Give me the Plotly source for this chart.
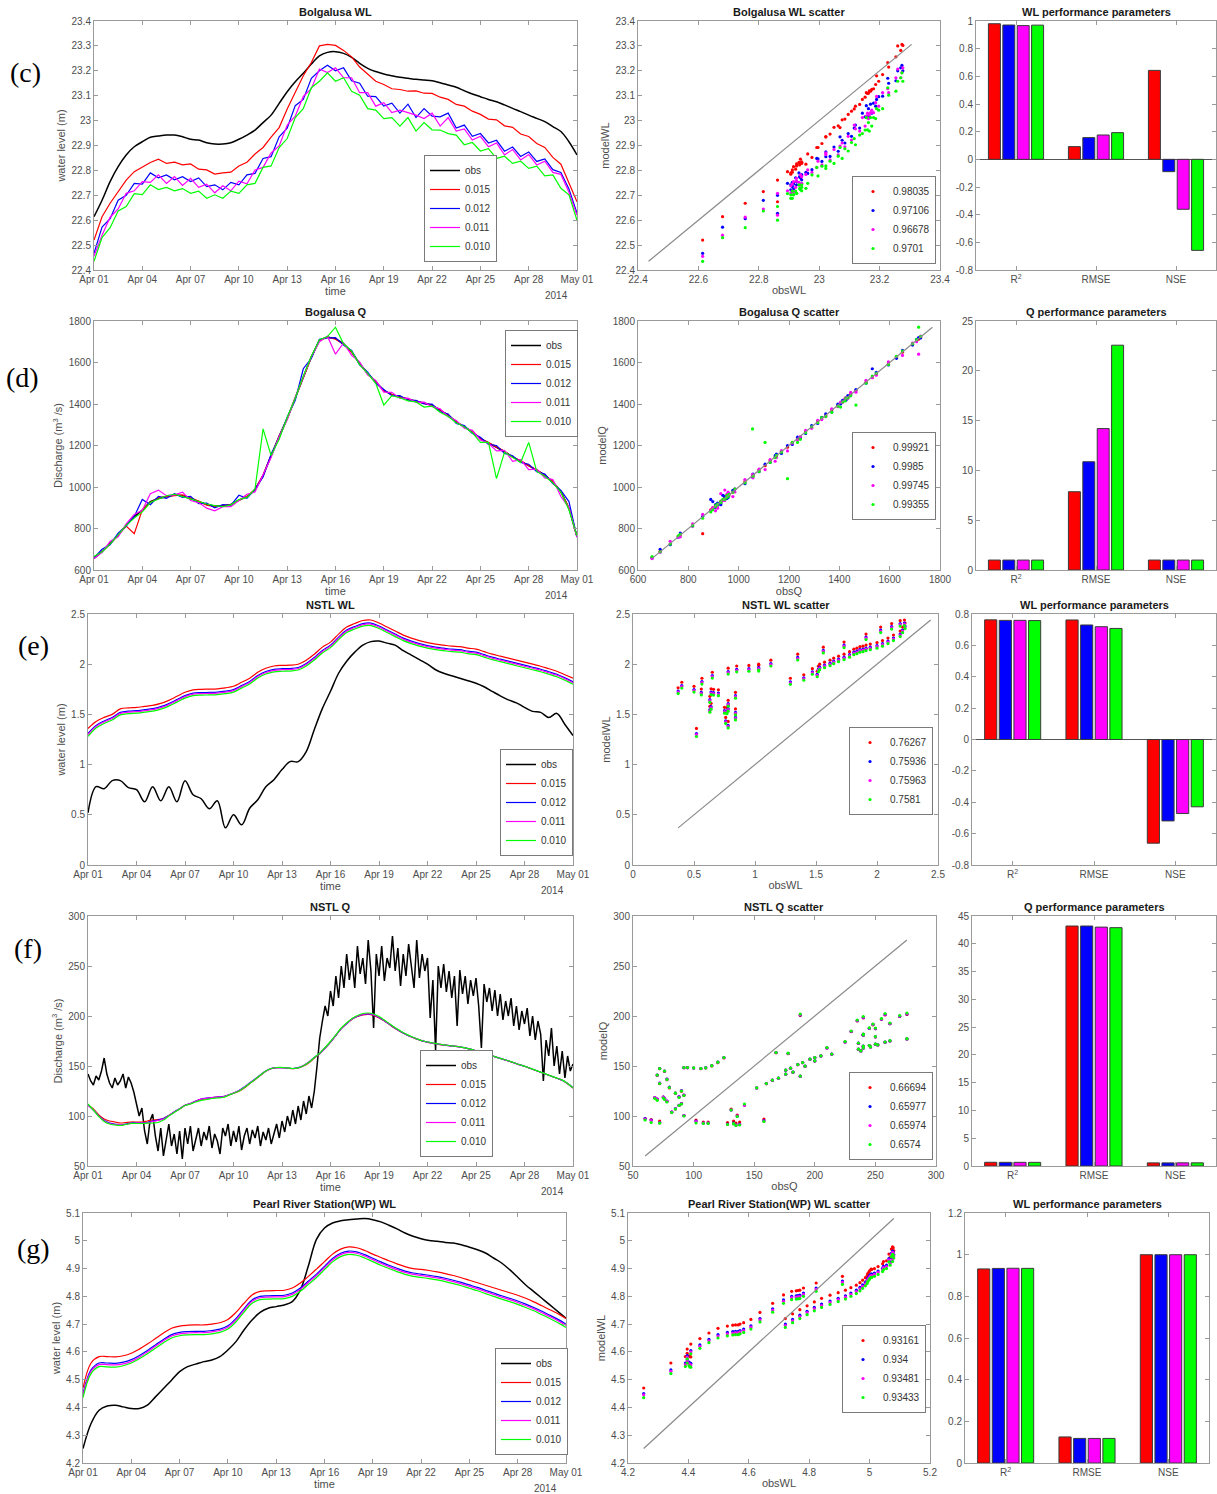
import plotly.graph_objects as go
import pandas as pd

W, H = 1217, 1494

# ---------------- tick labels / names ----------------
date_ticks = ["2014-04-01", "2014-04-04", "2014-04-07", "2014-04-10", "2014-04-13",
              "2014-04-16", "2014-04-19", "2014-04-22", "2014-04-25", "2014-04-28", "2014-05-01"]
date_tick_labels = ["Apr 01", "Apr 04", "Apr 07", "Apr 10", "Apr 13", "Apr 16",
                    "Apr 19", "Apr 22", "Apr 25", "Apr 28", "May 01"]
series_names = ["obs", "0.015", "0.012", "0.011", "0.010"]
metric_labels = ["R<sup>2</sup>", "RMSE", "NSE"]
metric_pos = [1, 2, 3]

t12 = pd.date_range("2014-04-01", periods=61, freq="12h")
t8 = pd.date_range("2014-04-01", periods=91, freq="8h")
t4 = pd.date_range("2014-04-01", periods=181, freq="4h")

# ---------------- (c) Bolgalusa WL (12-hourly) ----------------
c_obs = [22.614, 22.680, 22.755, 22.815, 22.862, 22.895, 22.915, 22.933, 22.938, 22.942,
         22.942, 22.935, 22.925, 22.922, 22.911, 22.906, 22.906, 22.911, 22.925, 22.942,
         22.962, 22.992, 23.022, 23.069, 23.116, 23.156, 23.190, 23.227, 23.260, 23.274,
         23.277, 23.270, 23.254, 23.230, 23.210, 23.197, 23.187, 23.180, 23.174, 23.170,
         23.166, 23.163, 23.160, 23.152, 23.143, 23.134, 23.120, 23.107, 23.096, 23.085,
         23.076, 23.063, 23.049, 23.036, 23.022, 23.009, 22.996, 22.976, 22.956, 22.915,
         22.862]
c_red = [22.520, 22.614, 22.668, 22.715, 22.761, 22.795, 22.815, 22.832, 22.845, 22.828,
         22.833, 22.822, 22.826, 22.805, 22.802, 22.785, 22.790, 22.793, 22.818, 22.833,
         22.866, 22.892, 22.934, 22.972, 23.047, 23.112, 23.180, 23.233, 23.300, 23.306,
         23.302, 23.282, 23.256, 23.215, 23.185, 23.158, 23.145, 23.128, 23.125, 23.118,
         23.119, 23.110, 23.109, 23.094, 23.085, 23.065, 23.058, 23.038, 23.025, 23.006,
         23.003, 22.979, 22.973, 22.946, 22.936, 22.908, 22.892, 22.852, 22.825, 22.752,
         22.674]
c_blue = [22.467, 22.572, 22.606, 22.680, 22.700, 22.748, 22.745, 22.790, 22.770, 22.782,
          22.762, 22.775, 22.755, 22.770, 22.735, 22.742, 22.722, 22.752, 22.742, 22.782,
          22.788, 22.848, 22.855, 22.935, 22.970, 23.060, 23.085, 23.170, 23.200, 23.222,
          23.200, 23.212, 23.160, 23.150, 23.098, 23.096, 23.058, 23.070, 23.030, 23.066,
          23.012, 23.048, 23.018, 23.015, 23.030, 22.970, 22.982, 22.937, 22.948, 22.910,
          22.921, 22.877, 22.894, 22.856, 22.874, 22.836, 22.846, 22.803, 22.792, 22.725,
          22.628]
c_mag = [22.455, 22.540, 22.612, 22.645, 22.708, 22.718, 22.755, 22.752, 22.782, 22.748,
         22.775, 22.740, 22.768, 22.732, 22.745, 22.710, 22.738, 22.718, 22.757, 22.746,
         22.802, 22.812, 22.870, 22.898, 22.982, 23.018, 23.097, 23.128, 23.207, 23.193,
         23.212, 23.172, 23.172, 23.112, 23.112, 23.058, 23.072, 23.032, 23.042, 23.032,
         23.022, 23.008, 23.030, 22.978, 23.012, 22.958, 22.967, 22.922, 22.937, 22.895,
         22.910, 22.862, 22.884, 22.842, 22.864, 22.822, 22.837, 22.792, 22.784, 22.712,
         22.620]
c_green = [22.435, 22.530, 22.570, 22.637, 22.655, 22.707, 22.703, 22.742, 22.723, 22.732,
           22.718, 22.727, 22.708, 22.717, 22.688, 22.702, 22.688, 22.717, 22.708, 22.742,
           22.748, 22.812, 22.818, 22.892, 22.928, 23.012, 23.048, 23.132, 23.158, 23.192,
           23.158, 23.172, 23.118, 23.102, 23.048, 23.042, 23.008, 23.012, 22.978, 23.012,
           22.958, 22.992, 22.963, 22.962, 22.948, 22.942, 22.903, 22.912, 22.878, 22.887,
           22.848, 22.857, 22.828, 22.837, 22.808, 22.817, 22.778, 22.782, 22.728, 22.702,
           22.600]
c_r2 = [0.98035, 0.97106, 0.96678, 0.9701]
c_rmse = [0.092, 0.157, 0.176, 0.193]
c_nse = [0.643, -0.089, -0.361, -0.658]
c_bar_ticks = [-0.8, -0.6, -0.4, -0.2, 0, 0.2, 0.4, 0.6, 0.8, 1]

# ---------------- (d) Bogalusa Q (12-hourly) ----------------
d_obs = [656, 688, 728, 768, 817, 857, 889, 929, 945, 953,
         961, 958, 945, 929, 916, 908, 908, 916, 937, 953,
         985, 1055, 1150, 1245, 1330, 1426, 1531, 1627, 1707, 1723,
         1715, 1691, 1651, 1595, 1547, 1506, 1466, 1445, 1434, 1423,
         1413, 1405, 1394, 1370, 1346, 1314, 1290, 1266, 1234, 1213,
         1194, 1170, 1145, 1125, 1105, 1081, 1057, 1025, 977, 897,
         760]
d_red = [660, 690, 725, 770, 812, 775, 890, 925, 948, 955,
         958, 962, 948, 932, 912, 905, 910, 915, 935, 955,
         990, 1058, 1152, 1240, 1328, 1430, 1528, 1625, 1705, 1722,
         1712, 1688, 1650, 1592, 1545, 1505, 1464, 1446, 1432, 1425,
         1410, 1404, 1392, 1372, 1344, 1316, 1288, 1268, 1232, 1214,
         1192, 1172, 1143, 1127, 1103, 1083, 1055, 1027, 975, 900,
         762]
d_blue = [658, 700, 722, 778, 812, 858, 940, 915, 955, 945,
          968, 950, 955, 920, 922, 900, 915, 912, 960, 945,
          990, 1048, 1158, 1236, 1336, 1418, 1570, 1620, 1712, 1718,
          1720, 1684, 1658, 1588, 1553, 1500, 1470, 1440, 1441, 1418,
          1417, 1400, 1399, 1362, 1352, 1306, 1296, 1258, 1240, 1205,
          1200, 1162, 1151, 1118, 1110, 1074, 1062, 1016, 984, 930,
          758]
d_mag = [655, 685, 738, 760, 822, 868, 888, 968, 985, 958,
         962, 975, 935, 925, 898, 885, 905, 905, 935, 965,
         976, 1060, 1142, 1243, 1325, 1431, 1527, 1629, 1700, 1727,
         1640, 1694, 1634, 1603, 1539, 1514, 1457, 1456, 1427, 1428,
         1408, 1409, 1387, 1377, 1339, 1321, 1283, 1273, 1227, 1211,
         1174, 1176, 1124, 1132, 1084, 1086, 1044, 1036, 954, 901,
         758]
d_green = [665, 688, 725, 772, 815, 850, 880, 925, 940, 958,
           965, 955, 943, 930, 918, 910, 905, 914, 940, 950,
           990, 1280, 1152, 1230, 1335, 1428, 1535, 1630, 1710, 1725,
           1770, 1690, 1655, 1590, 1548, 1500, 1395, 1440, 1430, 1415,
           1410, 1385, 1390, 1360, 1340, 1310, 1290, 1262, 1215, 1215,
           1040, 1168, 1142, 1118, 1215, 1075, 1052, 1020, 975, 890,
           765]
d_r2 = [0.99921, 0.9985, 0.99745, 0.99355]
d_rmse = [7.86, 10.87, 14.2, 22.57]
d_nse = [0.9996, 0.9993, 0.9986, 0.9964]
d_bar_ticks = [0, 5, 10, 15, 20, 25]

# ---------------- (e) NSTL WL (12-hourly) ----------------
e_obs = [0.52, 0.78, 0.76, 0.84, 0.84, 0.77, 0.75, 0.63, 0.78, 0.64,
         0.78, 0.63, 0.84, 0.70, 0.66, 0.56, 0.64, 0.37, 0.50, 0.40,
         0.565, 0.65, 0.78, 0.85, 0.95, 1.03, 1.03, 1.13, 1.35, 1.56,
         1.73, 1.91, 2.03, 2.12, 2.19, 2.225, 2.23, 2.21, 2.19, 2.135,
         2.09, 2.045, 2.00, 1.945, 1.91, 1.885, 1.86, 1.835, 1.81, 1.775,
         1.73, 1.685, 1.645, 1.615, 1.57, 1.53, 1.52, 1.47, 1.51, 1.40,
         1.29]
e_red = [1.36, 1.43, 1.47, 1.50, 1.555, 1.565, 1.57, 1.58, 1.59, 1.61,
         1.64, 1.68, 1.72, 1.745, 1.75, 1.752, 1.755, 1.765, 1.78, 1.82,
         1.86, 1.92, 1.96, 1.982, 1.988, 1.99, 2.00, 2.04, 2.10, 2.17,
         2.22, 2.30, 2.37, 2.405, 2.435, 2.44, 2.41, 2.37, 2.33, 2.29,
         2.26, 2.235, 2.215, 2.20, 2.19, 2.18, 2.175, 2.16, 2.15, 2.125,
         2.10, 2.08, 2.06, 2.04, 2.02, 2.00, 1.98, 1.955, 1.93, 1.895,
         1.86]
e_blue = [1.31, 1.39, 1.435, 1.47, 1.52, 1.532, 1.537, 1.547, 1.557, 1.577,
          1.607, 1.647, 1.687, 1.712, 1.717, 1.719, 1.722, 1.732, 1.747, 1.787,
          1.827, 1.887, 1.927, 1.949, 1.955, 1.957, 1.967, 2.007, 2.067, 2.137,
          2.19, 2.27, 2.34, 2.375, 2.405, 2.41, 2.38, 2.34, 2.30, 2.26,
          2.23, 2.205, 2.185, 2.17, 2.16, 2.15, 2.145, 2.13, 2.12, 2.095,
          2.07, 2.05, 2.03, 2.01, 1.99, 1.97, 1.95, 1.925, 1.90, 1.865,
          1.825]
e_mag = [1.30, 1.38, 1.425, 1.46, 1.51, 1.522, 1.527, 1.537, 1.547, 1.567,
         1.597, 1.637, 1.677, 1.702, 1.707, 1.709, 1.712, 1.722, 1.737, 1.777,
         1.817, 1.877, 1.917, 1.939, 1.945, 1.947, 1.957, 1.997, 2.057, 2.127,
         2.18, 2.26, 2.33, 2.365, 2.395, 2.40, 2.37, 2.33, 2.29, 2.25,
         2.22, 2.195, 2.175, 2.16, 2.15, 2.14, 2.135, 2.12, 2.11, 2.085,
         2.06, 2.04, 2.02, 2.00, 1.98, 1.96, 1.94, 1.915, 1.89, 1.855,
         1.815]
e_green = [1.28, 1.365, 1.41, 1.445, 1.495, 1.507, 1.512, 1.522, 1.532, 1.552,
           1.582, 1.622, 1.662, 1.687, 1.692, 1.694, 1.697, 1.707, 1.722, 1.762,
           1.802, 1.862, 1.902, 1.924, 1.93, 1.932, 1.942, 1.982, 2.042, 2.112,
           2.165, 2.245, 2.315, 2.35, 2.38, 2.385, 2.355, 2.315, 2.275, 2.235,
           2.205, 2.18, 2.16, 2.145, 2.135, 2.125, 2.12, 2.105, 2.095, 2.07,
           2.045, 2.025, 2.005, 1.985, 1.965, 1.945, 1.925, 1.90, 1.875, 1.84,
           1.80]
e_r2 = [0.76267, 0.75936, 0.75963, 0.7581]
e_rmse = [0.762, 0.730, 0.719, 0.708]
e_nse = [-0.661, -0.519, -0.472, -0.429]
e_bar_ticks = [-0.8, -0.6, -0.4, -0.2, 0, 0.2, 0.4, 0.6, 0.8]

# ---------------- (f) NSTL Q : obs 4-hourly, model 8-hourly ----------------
f_obs = [142, 135, 131, 140, 136, 145,
         158, 142, 133, 128, 138, 131,
         135, 142, 128, 139, 133, 124,
         112, 100, 108, 85, 72, 95,
         102, 80, 65, 88, 60, 78,
         92, 70, 82, 62, 85, 57,
         88, 72, 90, 65, 78, 88,
         70, 84, 76, 90, 68, 82,
         75, 62, 88, 80, 92, 70,
         85, 74, 90, 66, 80, 88,
         72, 86, 78, 90, 70, 84,
         76, 88, 72, 82, 92, 78,
         95, 84, 100, 90, 106, 92,
         110, 96, 115, 102, 120, 108,
         125, 150, 178, 195, 210, 200,
         225, 210, 240, 218, 250, 228,
         262, 236, 255, 228, 270, 242,
         258, 232, 276, 245, 188, 262,
         240, 270, 235, 258, 248, 280,
         245, 268, 230, 262, 240, 272,
         250, 228, 276, 238, 262, 245,
         258, 198, 236, 165, 250, 228,
         252, 224, 245, 218, 240, 190,
         246, 222, 240, 212, 236, 220,
         238, 210, 168, 232, 214, 228,
         205, 226, 200, 222, 196, 215,
         200, 218, 190, 210, 186, 205,
         192, 208, 180, 200, 176, 195,
         182, 135, 176, 160, 188, 150,
         170, 142, 165, 138, 160, 145,
         152]
f_red = [111, 107, 101, 97, 95, 94, 93, 93.5, 94, 94,
         94, 95, 96, 96.5, 97.5, 100.5, 104, 107, 110.5, 112.3,
         114.7, 116.7, 117.3, 118.3, 119, 119, 120.7, 122.7, 124.7, 128,
         132.3, 136.3, 140.7, 144.7, 147.3, 148.3, 148.3, 148, 147.3, 148,
         150, 153.3, 158, 162.3, 168, 174, 180.7, 187.3, 192.3, 196.7,
         199.5, 201, 201.5, 200.5, 198, 195, 191.2, 187.5, 184.3, 181.5,
         179, 177, 175, 173.7, 172.7, 171.7, 171, 170.3, 169.7, 169,
         168, 166.7, 165, 163.3, 161.7, 160, 158.3, 156.7, 155, 153.3,
         151.3, 149.7, 147.7, 145.7, 143.7, 141.7, 139.7, 137.7, 135.7, 132.3,
         128]
f_blue = [111, 106, 100, 95.5, 93, 92, 91, 92, 93, 93,
          93, 93.5, 95, 96, 97.5, 100.5, 104, 107.3, 110.7, 112.5,
          115, 117, 117.8, 118.5, 119, 119.3, 121, 123, 125.5, 129,
          133, 137, 141, 145, 147.5, 148.3, 148.3, 148, 147.5, 148.3,
          150.5, 154, 158.5, 162.5, 168, 174, 180.7, 187.3, 192.3, 196.9,
          199.8, 201.5, 202, 201, 198.5, 195.3, 191.5, 187.7, 184.5, 181.6,
          179.2, 177.1, 175.1, 173.8, 172.8, 171.8, 171.1, 170.4, 169.8, 169.1,
          168.1, 166.8, 165.1, 163.4, 161.8, 160.1, 158.4, 156.8, 155.1, 153.4,
          151.4, 149.8, 147.8, 145.8, 143.8, 141.8, 139.8, 137.8, 135.8, 132.4,
          128.1]
f_mag = [110.5, 106, 100, 95, 92.5, 91.5, 91, 91.5, 92.5, 92.8,
         92.8, 93.2, 94.5, 95.5, 97, 100.3, 103.8, 107.2, 110.6, 112.4,
         114.8, 116.8, 117.6, 118.4, 118.9, 119.2, 120.9, 122.9, 125.2, 128.7,
         132.8, 136.8, 141, 145, 147.4, 148.3, 148.3, 148, 147.4, 148.2,
         150.4, 153.9, 158.4, 162.5, 168.1, 174.1, 180.8, 187.5, 192.5, 197,
         200, 201.8, 202.3, 201.3, 198.8, 195.5, 191.7, 187.9, 184.7, 181.8,
         179.3, 177.2, 175.2, 173.9, 172.9, 171.9, 171.1, 170.4, 169.8, 169.1,
         168.1, 166.8, 165.1, 163.4, 161.8, 160.1, 158.4, 156.8, 155.1, 153.4,
         151.4, 149.8, 147.8, 145.8, 143.8, 141.8, 139.8, 137.8, 135.8, 132.4,
         128.1]
f_green = [112, 106, 99.5, 94.5, 92, 91, 90.5, 91.5, 92.5, 92.5,
           92.5, 92.8, 93, 93.5, 96, 100, 103.5, 107, 110.5, 112,
           114, 115.7, 116.5, 117.5, 118, 118.5, 120.5, 122.8, 125, 128.5,
           132.5, 136.5, 141, 145, 147.5, 148.5, 148.5, 148.2, 147.5, 148.2,
           150.3, 153.8, 158.5, 162.8, 168.5, 174.5, 181.2, 188, 193, 197.5,
           200.5, 202.5, 203, 202, 199.5, 196, 192, 188.2, 185, 182,
           179.5, 177.3, 175.3, 174, 173, 172, 171.2, 170.5, 169.9, 169.2,
           168.2, 166.9, 165.2, 163.5, 161.9, 160.2, 158.5, 156.9, 155.2, 153.5,
           151.5, 149.9, 147.9, 145.9, 143.9, 141.9, 139.9, 137.9, 135.9, 132.5,
           128.2]
f_r2 = [0.66694, 0.65977, 0.65974, 0.6574]
f_rmse = [43.2, 43.2, 43.0, 42.9]
f_nse = [0.56, 0.56, 0.57, 0.57]
f_bar_ticks = [0, 5, 10, 15, 20, 25, 30, 35, 40, 45]

# ---------------- (g) Pearl River Station (WP) WL (12-hourly) ----------------
g_obs = [4.252, 4.342, 4.390, 4.405, 4.408, 4.402, 4.396, 4.396, 4.408, 4.438,
         4.468, 4.498, 4.529, 4.547, 4.556, 4.565, 4.571, 4.583, 4.607, 4.637,
         4.679, 4.715, 4.742, 4.757, 4.763, 4.769, 4.781, 4.823, 4.910, 5.005,
         5.046, 5.064, 5.072, 5.076, 5.078, 5.080, 5.076, 5.068, 5.056, 5.043,
         5.028, 5.016, 5.007, 5.001, 4.998, 4.994, 4.992, 4.986, 4.977, 4.968,
         4.956, 4.938, 4.920, 4.896, 4.869, 4.841, 4.817, 4.793, 4.769, 4.745,
         4.721]
g_red = [4.470, 4.560, 4.583, 4.583, 4.582, 4.586, 4.595, 4.610, 4.628, 4.648,
         4.668, 4.685, 4.693, 4.696, 4.697, 4.697, 4.700, 4.705, 4.717, 4.742,
         4.775, 4.805, 4.818, 4.820, 4.821, 4.822, 4.830, 4.848, 4.872, 4.898,
         4.925, 4.952, 4.970, 4.978, 4.975, 4.965, 4.952, 4.940, 4.928, 4.917,
         4.907, 4.900, 4.897, 4.893, 4.888, 4.882, 4.875, 4.867, 4.858, 4.849,
         4.840, 4.831, 4.822, 4.813, 4.804, 4.793, 4.780, 4.766, 4.752, 4.737,
         4.720]
g_blue = [4.450, 4.535, 4.560, 4.560, 4.559, 4.563, 4.572, 4.587, 4.605, 4.625,
          4.645, 4.662, 4.670, 4.673, 4.674, 4.674, 4.677, 4.682, 4.694, 4.720,
          4.755, 4.787, 4.800, 4.802, 4.803, 4.804, 4.812, 4.830, 4.855, 4.880,
          4.908, 4.936, 4.955, 4.963, 4.960, 4.950, 4.937, 4.924, 4.912, 4.901,
          4.891, 4.884, 4.880, 4.876, 4.871, 4.865, 4.858, 4.850, 4.841, 4.832,
          4.822, 4.812, 4.802, 4.793, 4.783, 4.772, 4.760, 4.746, 4.732, 4.717,
          4.700]
g_mag = [4.445, 4.530, 4.554, 4.554, 4.553, 4.557, 4.566, 4.581, 4.600, 4.620,
         4.640, 4.657, 4.665, 4.668, 4.669, 4.669, 4.672, 4.677, 4.689, 4.715,
         4.750, 4.782, 4.795, 4.797, 4.798, 4.799, 4.807, 4.825, 4.850, 4.875,
         4.903, 4.931, 4.950, 4.958, 4.955, 4.945, 4.932, 4.919, 4.907, 4.896,
         4.886, 4.879, 4.875, 4.871, 4.866, 4.860, 4.853, 4.845, 4.836, 4.827,
         4.817, 4.807, 4.797, 4.788, 4.778, 4.767, 4.755, 4.741, 4.727, 4.712,
         4.695]
g_green = [4.435, 4.522, 4.547, 4.546, 4.545, 4.550, 4.560, 4.575, 4.593, 4.613,
           4.633, 4.650, 4.658, 4.661, 4.662, 4.662, 4.665, 4.670, 4.682, 4.708,
           4.743, 4.775, 4.788, 4.790, 4.791, 4.792, 4.800, 4.818, 4.843, 4.868,
           4.896, 4.924, 4.943, 4.951, 4.948, 4.938, 4.925, 4.912, 4.900, 4.889,
           4.879, 4.872, 4.868, 4.864, 4.859, 4.853, 4.846, 4.838, 4.829, 4.820,
           4.810, 4.800, 4.790, 4.781, 4.771, 4.760, 4.748, 4.734, 4.720, 4.705,
           4.688]
g_r2 = [0.93161, 0.934, 0.93481, 0.93433]
g_rmse = [0.125, 0.118, 0.118, 0.118]
g_nse = [0.9998, 0.9998, 0.9998, 0.9998]
g_bar_ticks = [0, 0.2, 0.4, 0.6, 0.8, 1, 1.2]

# ---------------- styles ----------------
FONT = "Liberation Sans, Arial, sans-serif"
LC = "#9a9a9a"
TC = "#4d4d4d"
COLORS = ["#000000", "#FF0000", "#0000FF", "#FF00FF", "#00FF00"]

rows = [
    dict(label="(c)", lab_px=(25, 73), ts_title="Bolgalusa WL", sc_title="Bolgalusa WL scatter",
         bar_title="WL performance parameters", t_obs=t12, t_mod=t12, obs=c_obs, obs_sc=c_obs,
         models=[c_red, c_blue, c_mag, c_green], obs_shape="spline", mod_shape="linear",
         ylab="water level (m)", yr=[22.4, 23.4], ydt=0.1, sxlab="obsWL", sylab="modelWL",
         sxr=[22.4, 23.4], sxdt=0.2, syr=[22.4, 23.4], sydt=0.1,
         r2=c_r2, rmse=c_rmse, nse=c_nse, byr=[-0.8, 1.0], byt=c_bar_ticks, zl=True,
         L=(94, 577, 21, 270), M=(638, 940, 21, 270), R=(976, 1216, 21, 270),
         legL=(424, 262, "bottom"), legM=(852, 264, "bottom")),
    dict(label="(d)", lab_px=(22, 377), ts_title="Bogalusa Q", sc_title="Bogalusa Q scatter",
         bar_title="Q performance parameters", t_obs=t12, t_mod=t12, obs=d_obs, obs_sc=d_obs,
         models=[d_red, d_blue, d_mag, d_green], obs_shape="linear", mod_shape="linear",
         ylab="Discharge (m<sup>3</sup> /s)", yr=[600, 1800], ydt=200, sxlab="obsQ", sylab="modelQ",
         sxr=[600, 1800], sxdt=200, syr=[600, 1800], sydt=200,
         r2=d_r2, rmse=d_rmse, nse=d_nse, byr=[0, 25], byt=d_bar_ticks, zl=False,
         L=(94, 577, 321, 570), M=(638, 940, 321, 570), R=(976, 1216, 321, 570),
         legL=(505, 330, "top"), legM=(852, 476, "middle")),
    dict(label="(e)", lab_px=(33, 645), ts_title="NSTL WL", sc_title="NSTL WL scatter",
         bar_title="WL performance parameters", t_obs=t12, t_mod=t12, obs=e_obs, obs_sc=e_obs,
         models=[e_red, e_blue, e_mag, e_green], obs_shape="spline", mod_shape="spline",
         ylab="water level (m)", yr=[0, 2.5], ydt=0.5, sxlab="obsWL", sylab="modelWL",
         sxr=[0, 2.5], sxdt=0.5, syr=[0, 2.5], sydt=0.5,
         r2=e_r2, rmse=e_rmse, nse=e_nse, byr=[-0.8, 0.8], byt=e_bar_ticks, zl=True,
         L=(88, 573, 614, 865), M=(633, 938, 614, 865), R=(972, 1216, 614, 865),
         legL=(500, 856, "bottom"), legM=(849, 771, "middle")),
    dict(label="(f)", lab_px=(28, 948), ts_title="NSTL Q", sc_title="NSTL Q scatter",
         bar_title="Q performance parameters", t_obs=t4, t_mod=t8, obs=f_obs, obs_sc=f_obs[::2],
         models=[f_red, f_blue, f_mag, f_green], obs_shape="linear", mod_shape="spline",
         ylab="Discharge (m<sup>3</sup> /s)", yr=[50, 300], ydt=50, sxlab="obsQ", sylab="modelQ",
         sxr=[50, 300], sxdt=50, syr=[50, 300], sydt=50,
         r2=f_r2, rmse=f_rmse, nse=f_nse, byr=[0, 45], byt=f_bar_ticks, zl=False,
         L=(88, 573, 916, 1166), M=(633, 936, 916, 1166), R=(972, 1216, 916, 1166),
         legL=(420, 1157, "bottom"), legM=(849, 1160, "bottom")),
    dict(label="(g)", lab_px=(33, 1248), ts_title="Pearl River Station(WP) WL",
         sc_title="Pearl River Station(WP) WL scatter",
         bar_title="WL performance parameters", t_obs=t12, t_mod=t12, obs=g_obs, obs_sc=g_obs,
         models=[g_red, g_blue, g_mag, g_green], obs_shape="spline", mod_shape="spline",
         ylab="water level (m)", yr=[4.2, 5.1], ydt=0.1, sxlab="obsWL", sylab="modelWL",
         sxr=[4.2, 5.2], sxdt=0.2, syr=[4.2, 5.1], sydt=0.1,
         r2=g_r2, rmse=g_rmse, nse=g_nse, byr=[0, 1.2], byt=g_bar_ticks, zl=False,
         L=(83, 566, 1213, 1463), M=(628, 930, 1213, 1463), R=(965, 1209, 1213, 1463),
         legL=(495, 1455, "bottom"), legM=(842, 1369, "middle")),
]


def xdom(b):
    return [b[0] / W, b[1] / W]


def ydom(b):
    return [1 - b[3] / H, 1 - b[2] / H]


def refs(k):
    return ("x" if k == 1 else f"x{k}", "y" if k == 1 else f"y{k}")


def axkey(a, k):
    return f"{a}axis" if k == 1 else f"{a}axis{k}"


def base_axis():
    return dict(showline=True, linecolor=LC, linewidth=1, mirror="ticks", ticks="inside",
                ticklen=4, tickwidth=1, tickcolor=LC, tickfont=dict(size=10, color=TC, family=FONT),
                showgrid=False, zeroline=False, automargin=False)


def legend_box(xpx, ypx, anchor):
    return dict(x=xpx / W, y=1 - ypx / H, xanchor="left", yanchor=anchor, xref="paper", yref="paper",
                bgcolor="white", bordercolor="#7a7a7a", borderwidth=1,
                font=dict(size=10, color="#333333", family=FONT), itemwidth=30,
                tracegroupgap=0, itemsizing="trace")


fig = go.Figure()
layout = dict(width=W, height=H, margin=dict(l=0, r=0, t=0, b=0, pad=0), autosize=False,
              paper_bgcolor="white", plot_bgcolor="white",
              font=dict(family=FONT, size=10, color=TC),
              barmode="group", bargap=0.28, bargroupgap=0.17, showlegend=True)
annotations = []

for r, cfg in enumerate(rows):
    kL, kM, kR = 3 * r + 1, 3 * r + 2, 3 * r + 3
    xL, yL = refs(kL)
    xM, yM = refs(kM)
    xR, yR = refs(kR)
    legTS = "legend" if r == 0 else f"legend{2 * r + 1}"
    legSC = f"legend{2 * r + 2}"

    # --- time series ---
    fig.add_trace(go.Scatter(x=cfg["t_obs"], y=cfg["obs"], mode="lines", name=series_names[0],
                             line=dict(color=COLORS[0], width=1.5, shape=cfg["obs_shape"]),
                             legend=legTS, xaxis=xL, yaxis=yL))
    for i, ys in enumerate(cfg["models"]):
        fig.add_trace(go.Scatter(x=cfg["t_mod"], y=ys, mode="lines", name=series_names[i + 1],
                                 line=dict(color=COLORS[i + 1], width=1.2, shape=cfg["mod_shape"]),
                                 legend=legTS, xaxis=xL, yaxis=yL))
    # --- scatter (obs vs model at model times) ---
    for i, ys in enumerate(cfg["models"]):
        fig.add_trace(go.Scatter(x=cfg["obs_sc"], y=ys, mode="markers", name=f"{cfg['r2'][i]}",
                                 marker=dict(color=COLORS[i + 1], size=3.2, line=dict(width=0)),
                                 legend=legSC, xaxis=xM, yaxis=yM))
    pool = [cfg["obs_sc"]] + cfg["models"]
    lo = min(min(s) for s in pool)
    hi = max(max(s) for s in pool)
    fig.add_trace(go.Scatter(x=[lo, hi], y=[lo, hi], mode="lines", showlegend=False,
                             line=dict(color="#8a8a8a", width=1.2), xaxis=xM, yaxis=yM, hoverinfo="skip"))
    # --- bars ---
    for i in range(4):
        fig.add_trace(go.Bar(x=metric_pos, y=[cfg["r2"][i], cfg["rmse"][i], cfg["nse"][i]],
                             marker=dict(color=COLORS[i + 1], line=dict(color="#3a3a3a", width=1)),
                             showlegend=False, xaxis=xR, yaxis=yR))

    # --- axes ---
    ax = base_axis()
    ax.update(domain=xdom(cfg["L"]), anchor=yL, type="date", range=["2014-04-01", "2014-05-01"],
              tickmode="array", tickvals=date_ticks, ticktext=date_tick_labels,
              title=dict(text="time", font=dict(size=11, color=TC), standoff=2))
    layout[axkey("x", kL)] = ax
    ay = base_axis()
    ay.update(domain=ydom(cfg["L"]), anchor=xL, range=cfg["yr"], dtick=cfg["ydt"], tick0=0,
              title=dict(text=cfg["ylab"], font=dict(size=11, color=TC), standoff=3))
    layout[axkey("y", kL)] = ay

    ax = base_axis()
    ax.update(domain=xdom(cfg["M"]), anchor=yM, range=cfg["sxr"], dtick=cfg["sxdt"], tick0=0,
              title=dict(text=cfg["sxlab"], font=dict(size=11, color=TC), standoff=2))
    layout[axkey("x", kM)] = ax
    ay = base_axis()
    ay.update(domain=ydom(cfg["M"]), anchor=xM, range=cfg["syr"], dtick=cfg["sydt"], tick0=0,
              title=dict(text=cfg["sylab"], font=dict(size=11, color=TC), standoff=3))
    layout[axkey("y", kM)] = ay

    ax = base_axis()
    ax.update(domain=xdom(cfg["R"]), anchor=yR, range=[0.5, 3.5], tickmode="array",
              tickvals=metric_pos, ticktext=metric_labels)
    layout[axkey("x", kR)] = ax
    ay = base_axis()
    ay.update(domain=ydom(cfg["R"]), anchor=xR, range=cfg["byr"], tickmode="array",
              tickvals=cfg["byt"], ticktext=[f"{v:g}" for v in cfg["byt"]])
    if cfg["zl"]:
        ay.update(zeroline=True, zerolinecolor="#555555", zerolinewidth=1)
    layout[axkey("y", kR)] = ay

    # --- legends ---
    layout[legTS] = legend_box(*cfg["legL"])
    layout[legSC] = legend_box(*cfg["legM"])

    # --- titles ---
    for box, title in ((cfg["L"], cfg["ts_title"]), (cfg["M"], cfg["sc_title"]), (cfg["R"], cfg["bar_title"])):
        annotations.append(dict(x=(box[0] + box[1]) / 2 / W, y=1 - (box[2] - 1) / H, xref="paper", yref="paper",
                                text=f"<b>{title}</b>", showarrow=False, xanchor="center", yanchor="bottom",
                                font=dict(size=11, color="#1a1a1a", family=FONT)))
    # --- 2014 label ---
    L = cfg["L"]
    annotations.append(dict(x=(L[1] - 21) / W, y=1 - (L[3] + 25) / H, xref="paper", yref="paper",
                            text="2014", showarrow=False, xanchor="center", yanchor="middle",
                            font=dict(size=10, color=TC, family=FONT)))
    # --- panel letter ---
    annotations.append(dict(x=cfg["lab_px"][0] / W, y=1 - cfg["lab_px"][1] / H, xref="paper", yref="paper",
                            text=cfg["label"], showarrow=False, xanchor="center", yanchor="middle",
                            font=dict(size=28, color="#000000", family="Liberation Serif, Times New Roman, serif")))

layout["annotations"] = annotations
fig.update_layout(**layout)
fig.write_html("out.html")
